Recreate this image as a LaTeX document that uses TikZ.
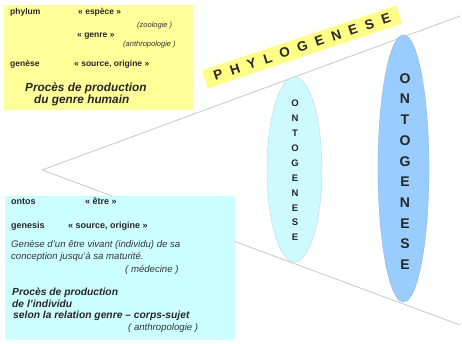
\documentclass[tikz,border=0pt]{standalone}
\usepackage{fontspec}
\setmainfont{Liberation Sans}
\usetikzlibrary{shapes.geometric}
\definecolor{yellowbox}{HTML}{FFFF99}
\definecolor{cyanbox}{HTML}{CCFFFF}
\definecolor{smallell}{HTML}{CCFAFF}
\definecolor{bigell}{HTML}{99CCFF}
\definecolor{bannery}{HTML}{FFFF88}
\definecolor{conegrey}{HTML}{C8C8C8}
\definecolor{txtgrey}{HTML}{333333}
\tikzset{
  panel/.style={anchor=north west, inner sep=0pt, outer sep=0pt},
  lab/.style={anchor=base west, inner sep=0pt, font=\bfseries\fontsize{8.5}{10}\selectfont, text=black!85},
  clab/.style={anchor=base west, inner sep=0pt, font=\bfseries\fontsize{9}{10}\selectfont, text=black!85},
  note/.style={anchor=base west, inner sep=0pt, font=\itshape\fontsize{7.5}{9}\selectfont, text=txtgrey},
  cnote/.style={anchor=base west, inner sep=0pt, font=\itshape\fontsize{9.6}{11}\selectfont, text=txtgrey},
  ytitle/.style={anchor=base west, inner sep=0pt, font=\bfseries\itshape\fontsize{11.8}{13}\selectfont, text=black!85},
  ctitle/.style={anchor=base west, inner sep=0pt, font=\bfseries\itshape\fontsize{10.3}{12}\selectfont, text=black!85},
  cone/.style={draw=conegrey, line width=0.8pt},
  ell/.style={ellipse, inner sep=0pt, draw=#1!85!black, line width=0.3pt, fill=#1},
  vtext/.style={align=center, inner sep=0pt, text=black!85},
}
\begin{document}
\begin{tikzpicture}[x=1pt,y=-1pt]
\useasboundingbox (0,0) rectangle (462,344);
\fill[white] (0,0) rectangle (462,344);

% cone lines
\coordinate (v) at (42,170);
\coordinate (ue) at (460,16);
\coordinate (le) at (460,325);
\draw[cone] (v) -- (ue);
\draw[cone] (v) -- (le);

% ellipses
\node[ell=smallell, minimum width=55, minimum height=185] (e1) at (294.5,169.5) {};
\node[vtext, font=\bfseries\fontsize{9.5}{14.9}\selectfont] (t1) at (295,170.5) {O\\N\\T\\O\\G\\E\\N\\E\\S\\E};
\node[ell=bigell, minimum width=51, minimum height=267] (e2) at (403.5,168.5) {};
\node[vtext, font=\bfseries\fontsize{14}{20.7}\selectfont] (t2) at (405,171.5) {O\\N\\T\\O\\G\\E\\N\\E\\S\\E};

% banner
\node[fill=bannery, rotate=18.5, minimum width=205, minimum height=19, inner sep=0pt,
      font=\bfseries\fontsize{13.5}{14}\selectfont, text=black!85] (phy) at (302,47)
  {P\hspace{8.3pt}H\hspace{8.3pt}Y\hspace{8.3pt}L\hspace{8.3pt}O\hspace{8.3pt}G\hspace{8.3pt}E\hspace{8.3pt}N\hspace{8.3pt}E\hspace{8.3pt}S\hspace{8.3pt}E};

% yellow panel
\node[panel, fill=yellowbox, minimum width=189, minimum height=105] (ybox) at (4,5) {};
\node[lab] (y1) at (10,14.5) {phylum};
\node[lab] (y2) at (78,14.5) {« espèce »};
\node[note] (y3) at (137,27.5) {(zoologie )};
\node[lab] (y4) at (77,37.5) {« genre »};
\node[note] (y5) at (123,47) {(anthropologie )};
\node[lab] (y6) at (10,67) {genèse};
\node[lab] (y7) at (74,67) {« source, origine »};
\node[ytitle] (y8) at (25,92) {Procès de production};
\node[ytitle] (y9) at (34,104) {du genre humain};

% cyan panel
\node[panel, fill=cyanbox, minimum width=230, minimum height=144] (cbox) at (5,196) {};
\node[clab] (c1) at (11,204.5) {ontos};
\node[clab] (c2) at (85,204.5) {« être »};
\node[clab] (c3) at (11,228.5) {genesis};
\node[clab] (c4) at (68,228.5) {« source, origine »};
\node[cnote] (c5) at (11,247.5) {Genèse d'un être vivant (individu) de sa};
\node[cnote] (c6) at (11,259.5) {conception jusqu'à sa maturité.};
\node[cnote] (c7) at (125,272.5) {( médecine )};
\node[ctitle] (c8) at (12,295.5) {Procès de production};
\node[ctitle] (c9) at (12,307) {de l'individu};
\node[ctitle] (c10) at (13,318) {selon la relation genre – corps-sujet};
\node[cnote] (c11) at (128,330) {( anthropologie )};
\end{tikzpicture}
\end{document}
